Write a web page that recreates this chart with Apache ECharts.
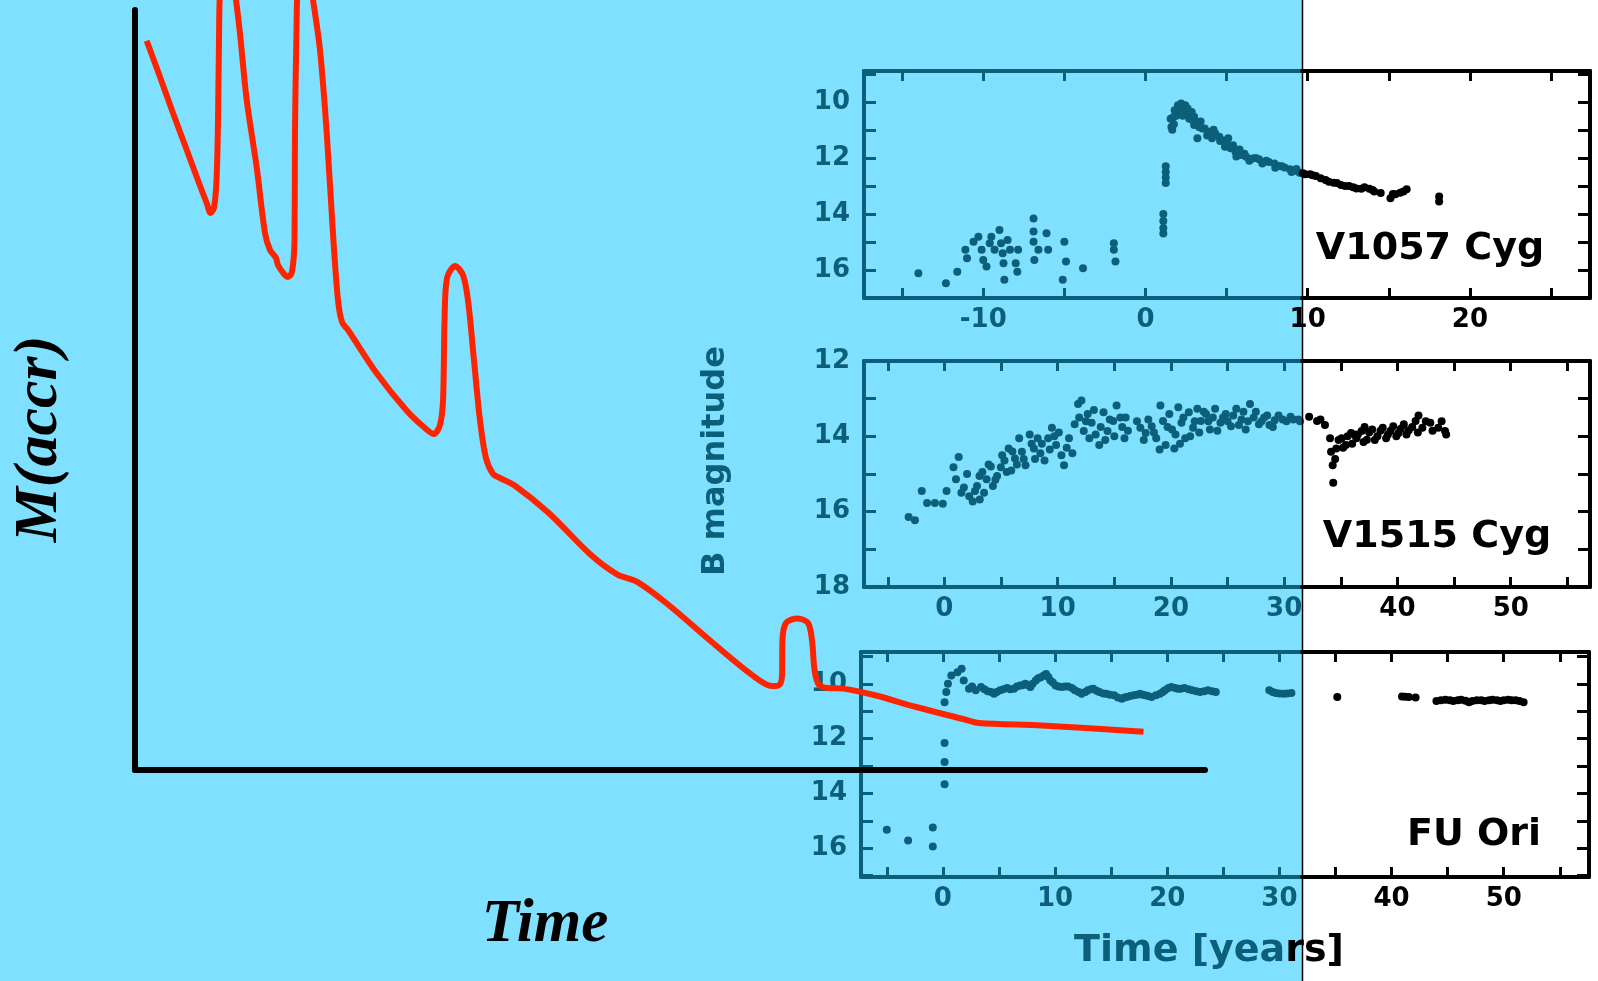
<!DOCTYPE html>
<html>
<head>
<meta charset="utf-8">
<script src="https://cdn.jsdelivr.net/npm/echarts@6/dist/echarts.min.js"></script>
<style>html,body{margin:0;padding:0;background:#fff;}#c{width:1598px;height:981px;}</style>
</head>
<body>
<div id="c"></div>
<script>
// ---------- DATA ----------
// schematic accretion-rate curve (arbitrary units: time 0..100, rate 0..100)
const accretionSketch = [
  [1.09,95.96],[2.34,91.18],[3.55,86.45],[4.77,81.84],[5.98,77.24],[6.73,74.47],[7.06,73.29],[7.38,73.95],[7.62,77.63],
  [7.76,85.53],[7.85,96.05],[7.99,103.3],[8.60,105.9],[9.21,103.3],[9.44,101.3],[9.81,96.97],[10.44,88.16],
  [11.37,79.34],[12.15,70.66],[12.62,68.42],[13.18,67.37],[13.36,66.45],[13.93,65.26],[14.30,64.87],[14.67,65.53],
  [14.91,69.74],[14.95,83.82],[15.09,96.97],[15.23,103.3],[15.79,105.9],[16.36,103.3],[16.64,101.3],[17.29,94.74],
  [17.92,83.82],[18.50,70.66],[18.97,61.84],[19.35,58.95],[19.91,57.89],[22.57,52.24],[25.42,47.24],[27.10,45.0],
  [27.94,44.21],[28.50,45.39],[28.79,48.68],[28.93,59.21],[29.16,64.74],[29.91,66.32],[30.65,65.13],[31.12,61.84],
  [31.68,53.95],[32.24,46.05],[32.80,41.05],[33.46,38.95],[34.11,38.42],[35.42,37.5],[38.67,33.82],[42.62,28.29],
  [45.10,25.71],[46.90,24.79],[49.76,21.84],[54.02,16.71],[57.63,12.55],[59.53,11.05],[60.19,11.18],[60.47,12.37],
  [60.51,17.11],[60.84,19.34],[61.92,19.95],[62.90,19.34],[63.27,17.11],[63.52,13.03],[63.93,11.18],[64.77,10.79],
  [66.17,10.71],[69.07,9.87],[73.00,8.29],[77.38,6.71],[78.88,6.18],[84.72,5.86],[94.25,5.04]
];

// V1057 Cyg light curve [years, B mag]
const v1057Cyg = [
  [-14.0,16.12],[-12.3,16.47],[-11.6,16.06],[-11.1,15.28],[-11.0,15.58],[-10.6,14.99],[-10.3,14.81],[-10.1,15.28],
  [-10.0,15.64],[-9.8,15.88],[-9.6,15.05],[-9.5,14.81],[-9.3,15.28],[-9.0,14.57],[-8.9,15.05],[-8.8,15.40],
  [-8.75,15.76],[-8.7,16.35],[-8.5,14.93],[-8.35,15.28],[-8.0,15.76],[-7.9,16.06],[-7.85,15.28],[-6.9,14.16],
  [-6.9,14.63],[-6.9,14.99],[-6.85,15.64],[-6.6,15.28],[-6.1,14.69],[-6.0,15.28],[-5.1,16.35],[-5.0,14.99],
  [-4.9,15.70],[-3.85,15.94],[-1.95,15.05],[-1.95,15.28],[-1.85,15.70],
  [1.1,14.0],[1.1,14.25],[1.1,14.5],[1.1,14.7],[1.25,12.3],[1.25,12.5],[1.25,12.7],[1.25,12.9],
  [1.55,10.6],[1.6,10.9],[1.65,11.0],[1.7,10.55],[1.75,10.8],[1.8,10.3],[1.9,10.5],[2.0,10.12],[2.05,10.2],
  [2.1,10.35],[2.2,10.06],[2.3,10.5],[2.35,10.2],[2.45,10.12],[2.55,10.35],[2.6,10.24],[2.7,10.6],[2.75,10.45],
  [2.85,10.36],[2.9,10.65],[3.0,10.53],[3.0,10.83],[3.1,10.7],[3.2,11.3],[3.3,10.9],[3.4,10.7],[3.5,10.95],
  [3.65,10.95],[3.8,11.2],[3.95,11.07],[4.1,11.3],[4.2,11.0],[4.3,11.13],[4.55,11.25],[4.6,11.4],[4.75,11.37],
  [4.9,11.6],[5.0,11.48],[5.1,11.3],[5.25,11.66],[5.4,11.55],[5.55,11.78],[5.6,11.95],[5.8,11.7],[5.9,11.9],
  [6.1,11.85],[6.2,11.96],[6.4,12.1],[6.6,12.02],[6.8,12.0],[7.0,12.05],[7.2,12.2],[7.45,12.1],[7.6,12.15],
  [7.95,12.2],[8.0,12.35],[8.25,12.29],[8.4,12.3],[8.57,12.34],[8.9,12.41],[9.0,12.5],[9.2,12.46],[9.3,12.4],
  [9.5,12.53],[9.7,12.55],[9.85,12.58],[10.15,12.58],[10.3,12.62],[10.5,12.65],[10.8,12.73],[11.1,12.79],
  [11.3,12.85],[11.6,12.89],[11.8,12.9],[12.05,12.97],[12.3,13.0],[12.55,13.0],[12.8,13.05],[13.0,13.09],
  [13.3,13.1],[13.5,13.05],[13.8,13.1],[14.0,13.15],[14.1,13.2],[14.5,13.25],[15.1,13.44],[15.25,13.29],
  [15.4,13.3],[15.7,13.24],[15.9,13.2],[16.1,13.12],[18.1,13.38],[18.1,13.56]
];

// V1515 Cyg light curve [years, B mag]
const v1515Cyg = [
  [-3.16,16.14],[-2.6,16.23],[-2.0,15.45],[-1.53,15.77],[-0.84,15.77],[-0.14,15.79],[0.19,15.45],[0.8,14.82],
  [1.26,14.55],[1.02,15.14],[1.5,15.5],[1.72,15.36],[2.0,15.0],[2.19,15.59],[2.5,15.73],[2.7,15.45],[3.12,15.68],
  [2.88,15.32],[3.1,15.05],[3.35,14.95],[3.5,15.5],[3.72,15.14],[3.9,14.75],[4.1,14.8],[4.28,15.32],[4.5,15.15],
  [4.65,15.05],[4.98,14.82],[5.1,14.5],[5.3,14.64],[5.5,14.95],[5.67,14.32],[5.9,14.91],[6.0,14.4],[6.23,14.59],
  [6.4,14.75],[6.6,14.05],[6.84,14.41],[7.0,14.6],[7.16,14.77],[7.53,13.95],[7.7,14.2],[7.9,14.32],[8.0,14.6],
  [8.23,14.05],[8.47,14.45],[8.6,14.2],[8.84,14.64],[9.16,14.05],[9.3,14.35],[9.49,13.77],[9.7,14.0],[9.86,14.23],
  [10.1,13.9],[10.33,14.5],[10.56,14.77],[10.8,14.3],[11.0,14.05],[11.3,14.45],[11.5,13.68],[11.8,13.14],
  [11.9,13.5],[12.1,13.05],[12.3,13.86],[12.5,13.6],[12.65,13.41],[12.8,14.05],[13.0,13.64],[13.2,13.3],
  [13.35,13.95],[13.67,14.23],[13.8,13.75],[14.05,13.36],[14.2,14.1],[14.4,13.86],[14.6,13.55],[14.9,13.59],
  [15.0,14.0],[15.2,13.18],[15.53,13.5],[15.7,13.75],[15.9,14.05],[16.0,13.5],[16.2,13.85],[17.0,13.6],
  [17.3,13.77],[17.6,14.1],[17.77,13.91],[18.0,13.55],[18.3,13.73],[18.5,13.9],[18.7,14.05],[19.0,14.35],
  [19.07,13.18],[19.3,13.59],[19.53,14.23],[19.7,13.75],[19.86,13.41],[20.1,13.82],[20.3,14.32],[20.4,13.95],
  [20.65,13.23],[20.8,14.2],[20.93,13.64],[21.1,13.5],[21.26,14.05],[21.58,13.36],[21.7,14.0],[21.95,13.77],
  [22.1,13.6],[22.33,13.27],[22.5,13.9],[22.65,13.59],[22.9,13.35],[23.1,13.41],[23.3,13.6],[23.44,13.82],
  [23.7,13.5],[23.9,13.27],[24.1,13.85],[24.37,13.64],[24.6,13.5],[24.84,13.41],[25.0,13.6],[25.3,13.73],
  [25.5,13.45],[25.77,13.27],[26.0,13.7],[26.23,13.55],[26.4,13.35],[26.6,13.82],[26.8,13.6],[26.98,13.14],
  [27.3,13.5],[27.5,13.35],[27.77,13.68],[28.0,13.6],[28.23,13.5],[28.5,13.45],[28.7,13.7],[29.0,13.75],
  [29.16,13.57],[29.5,13.45],[29.86,13.55],[30.2,13.6],[30.56,13.48],[30.8,13.55],[31.26,13.55],[31.4,13.6],
  [32.2,13.48],[32.9,13.59],[33.2,13.55],[33.6,13.7],[34.05,14.05],[34.14,14.41],[34.28,14.77],[34.33,15.23],
  [34.5,14.6],[34.6,14.32],[34.8,14.1],[35.07,14.05],[35.2,14.3],[35.44,14.23],[35.6,14.0],[35.9,13.91],
  [36.0,14.2],[36.2,13.95],[36.37,14.05],[36.5,13.95],[36.84,13.86],[37.0,14.15],[37.1,13.75],[37.3,14.09],
  [37.5,13.9],[37.77,13.82],[38.0,14.1],[38.23,14.0],[38.5,13.85],[38.7,13.77],[39.0,14.05],[39.16,13.95],
  [39.4,13.85],[39.63,13.73],[39.9,14.0],[40.1,13.91],[40.3,13.8],[40.56,13.68],[40.8,13.95],[41.0,13.84],
  [41.3,13.75],[41.6,13.59],[41.8,13.9],[41.86,13.45],[42.2,13.77],[42.5,13.6],[42.9,13.64],[43.1,13.85],
  [43.6,13.77],[43.9,13.6],[44.2,13.86],[44.3,13.95]
];

// FU Ori light curve [years, B mag]
const fuOri = [
  [-5.0,15.33],[-3.1,15.72],[-0.9,15.24],[-0.9,15.94],[0.15,13.67],[0.15,12.85],[0.15,12.16],[0.15,10.67],
  [0.3,10.3],[0.45,10.0],[0.75,9.7],[1.3,9.58],[1.67,9.45],[1.86,9.88],[2.33,10.18],[2.6,10.1],[2.93,10.24],
  [3.4,10.12],[3.7,10.2],[4.0,10.27],[4.3,10.3],[4.56,10.36],[4.8,10.3],[5.1,10.24],[5.4,10.2],[5.72,10.15],
  [6.0,10.2],[6.33,10.18],[6.6,10.1],[6.9,10.06],[7.1,10.05],[7.35,10.0],[7.6,10.05],[7.8,10.12],[8.0,10.0],
  [8.28,9.88],[8.5,9.8],[8.74,9.76],[9.0,9.7],[9.2,9.64],[9.4,9.75],[9.58,9.88],[9.8,9.95],[10.05,10.06],
  [10.3,10.1],[10.6,10.12],[10.9,10.1],[11.16,10.1],[11.5,10.15],[11.77,10.24],[12.1,10.3],[12.37,10.36],
  [12.7,10.3],[12.93,10.24],[13.2,10.2],[13.4,10.18],[13.7,10.25],[13.95,10.3],[14.3,10.35],[14.56,10.36],
  [14.9,10.4],[15.26,10.42],[15.6,10.5],[15.95,10.55],[16.2,10.5],[16.4,10.48],[16.7,10.45],[17.0,10.42],
  [17.3,10.4],[17.58,10.36],[17.8,10.4],[18.05,10.42],[18.3,10.45],[18.6,10.48],[19.0,10.42],[19.35,10.36],
  [19.6,10.3],[19.8,10.24],[20.1,10.15],[20.37,10.12],[20.7,10.15],[20.93,10.18],[21.2,10.18],[21.53,10.15],
  [21.9,10.2],[22.23,10.24],[22.6,10.27],[22.93,10.3],[23.3,10.27],[23.63,10.24],[24.0,10.27],[24.33,10.3],
  [29.1,10.24],[29.4,10.3],[29.67,10.34],[30.0,10.35],[30.37,10.36],[30.7,10.35],[31.07,10.34],
  [35.16,10.48],[40.93,10.46],[41.2,10.47],[41.53,10.48],[42.14,10.5],[44.0,10.63],[44.4,10.6],[44.8,10.58],
  [45.2,10.6],[45.5,10.63],[45.9,10.6],[46.2,10.58],[46.6,10.62],[46.9,10.67],[47.2,10.63],[47.6,10.6],
  [48.0,10.6],[48.3,10.63],[48.7,10.6],[49.0,10.58],[49.4,10.6],[49.7,10.63],[50.0,10.6],[50.4,10.58],
  [50.7,10.6],[51.07,10.6],[51.4,10.63],[51.77,10.67]
];

// tick values / labels
const v1057TickYears = [-15,-10,-5,0,5,10,15,20,25];
const v1057LabelYears = [-10,0,10,20];
const v1057TickMags = [9,10,11,12,13,14,15,16,17];
const v1057LabelMags = [10,12,14,16];
const v1515TickYears = [-5,0,5,10,15,20,25,30,35,40,45,50,55];
const v1515LabelYears = [0,10,20,30,40,50];
const v1515TickMags = [12,13,14,15,16,17,18];
const v1515LabelMags = [12,14,16,18];
const fuOriTickYears = [-5,0,5,10,15,20,25,30,35,40,45,50,55];
const fuOriLabelYears = [0,10,20,30,40,50];
const fuOriTickMags = [9,10,11,12,13,14,15,16,17];
const fuOriLabelMags = [10,12,14,16];

const panelNames = ['V1057 Cyg','V1515 Cyg','FU Ori'];

// ---------- LAYOUT / STYLE ----------
const TEAL = '#0c5f79', INK = '#000000', BLUE = '#80e0ff', RED = '#ff2400';
const SPLIT_X = 1302;
const panels = [
  {data:v1057Cyg, xTicks:v1057TickYears, xLabels:v1057LabelYears, yTicks:v1057TickMags, yLabels:v1057LabelMags},
  {data:v1515Cyg, xTicks:v1515TickYears, xLabels:v1515LabelYears, yTicks:v1515TickMags, yLabels:v1515LabelMags},
  {data:fuOri, xTicks:fuOriTickYears, xLabels:fuOriLabelYears, yTicks:fuOriTickMags, yLabels:fuOriLabelMags}
];
const layout = [
  {left:864, right:1590, top:71, height:227, name:[1430,249]},
  {left:864, right:1590, top:361, height:226, name:[1437,537]},
  {left:861, right:1589, top:652, height:225, name:[1474,835]}
];
const ranges = [
  {xMin:-17.35, xMax:27.4, yMin:8.9, yMax:17.0},
  {xMin:-7.1, xMax:57.0, yMin:12, yMax:18},
  {xMin:-7.3, xMax:57.6, yMin:8.84, yMax:17.05}
];
const labelFont = {fontFamily:'DejaVu Sans', fontWeight:'bold', fontSize:26};

function makeX(g, s, pos, ticks, labels, showLabel) {
  return {type:'value', gridIndex:g, min:s.min, max:s.max, position:pos,
    axisLine:{show:true, onZero:false, lineStyle:{color:s.color, width:4}},
    axisTick:{show:true, inside:true, length:10, lineStyle:{color:s.color, width:3}, customValues:ticks},
    axisLabel:Object.assign({show:showLabel, customValues:labels, color:s.color, margin:9}, labelFont),
    splitLine:{show:false}};
}
function makeY(g, r, s, ticks, labels) {
  return {type:'value', gridIndex:g, min:r.yMin, max:r.yMax, inverse:true, position:s.yPos,
    axisLine:{show:true, onZero:false, lineStyle:{color:s.color, width:4}},
    axisTick:{show:true, inside:true, length:12, lineStyle:{color:s.color, width:3}, customValues:ticks},
    axisLabel:Object.assign({show:s.yLabels, customValues:labels, color:s.color, margin:14}, labelFont),
    splitLine:{show:false}};
}

const grids = [{left:135, top:10, width:1070, height:760}];
const mainAxis = {gridIndex:0, type:'value', min:0, max:100, z:9,
  axisLine:{show:true, onZero:false, lineStyle:{color:'#000', width:6}},
  axisTick:{show:false}, axisLabel:{show:false}, splitLine:{show:false}};
const xAxes = [Object.assign({}, mainAxis)];
const yAxes = [Object.assign({}, mainAxis)];
const series = [];

panels.forEach((p, i) => {
  const L = layout[i], r = ranges[i];
  const split = r.xMin + (SPLIT_X - L.left) / (L.right - L.left) * (r.xMax - r.xMin);
  const sides = [
    {min:r.xMin, max:split, left:L.left, width:SPLIT_X - L.left, color:TEAL, yPos:'left', yLabels:true},
    {min:split, max:r.xMax, left:SPLIT_X, width:L.right - SPLIT_X, color:INK, yPos:'right', yLabels:false}
  ];
  sides.forEach(s => {
    const g = grids.length;
    grids.push({left:s.left, top:L.top, width:s.width, height:L.height});
    const inR = v => v >= s.min - 1e-9 && v <= s.max + 1e-9;
    const xb = xAxes.length;
    xAxes.push(makeX(g, s, 'bottom', p.xTicks.filter(inR), p.xLabels.filter(inR), true));
    xAxes.push(makeX(g, s, 'top', p.xTicks.filter(inR), [], false));
    const yi = yAxes.length;
    yAxes.push(makeY(g, r, s, p.yTicks, p.yLabels));
    series.push({type:'scatter', xAxisIndex:xb, yAxisIndex:yi, data:p.data, symbol:'circle',
      symbolSize:8, itemStyle:{color:s.color, opacity:1}, silent:true, z:3});
  });
});

series.push({type:'line', xAxisIndex:0, yAxisIndex:0, data:accretionSketch, smooth:0.3,
  showSymbol:false, clip:false, lineStyle:{color:RED, width:6}, z:10, silent:true});

const graphic = [
  {type:'rect', z:-10, shape:{x:0, y:0, width:SPLIT_X, height:981}, style:{fill:BLUE}},
  {type:'line', z:20, shape:{x1:SPLIT_X+0.5, y1:0, x2:SPLIT_X+0.5, y2:981}, style:{stroke:'#000', lineWidth:1.5}},
  {type:'text', z:20, x:40, y:439, rotation:Math.PI/2, style:{text:'M(accr)', fill:'#000',
    fontFamily:'Liberation Serif', fontStyle:'italic', fontWeight:'bold', fontSize:62, align:'center', verticalAlign:'middle'}},
  {type:'text', z:20, x:545, y:925, style:{text:'Time', fill:'#000',
    fontFamily:'Liberation Serif', fontStyle:'italic', fontWeight:'bold', fontSize:61, align:'center', verticalAlign:'middle'}},
  {type:'text', z:20, x:716, y:461, rotation:Math.PI/2, style:{text:'B magnitude', fill:TEAL,
    fontFamily:'DejaVu Sans', fontWeight:'bold', fontSize:32, align:'center', verticalAlign:'middle'}},
  {type:'text', z:20, x:1209, y:951, style:{text:'{a|Time [yea}{b|rs]}', align:'center', verticalAlign:'middle',
    rich:{a:{fill:TEAL, fontFamily:'DejaVu Sans', fontWeight:'bold', fontSize:38},
          b:{fill:INK, fontFamily:'DejaVu Sans', fontWeight:'bold', fontSize:38}}}}
];
panelNames.forEach((n, i) => {
  graphic.push({type:'text', z:20, x:layout[i].name[0], y:layout[i].name[1], style:{text:n, fill:INK,
    fontFamily:'DejaVu Sans', fontWeight:'bold', fontSize:38, align:'center', verticalAlign:'middle'}});
});

const chart = echarts.init(document.getElementById('c'), null, {renderer:'canvas'});
chart.setOption({
  animation:false,
  backgroundColor:'#ffffff',
  grid:grids, xAxis:xAxes, yAxis:yAxes, series:series, graphic:graphic
});
</script>
</body>
</html>
